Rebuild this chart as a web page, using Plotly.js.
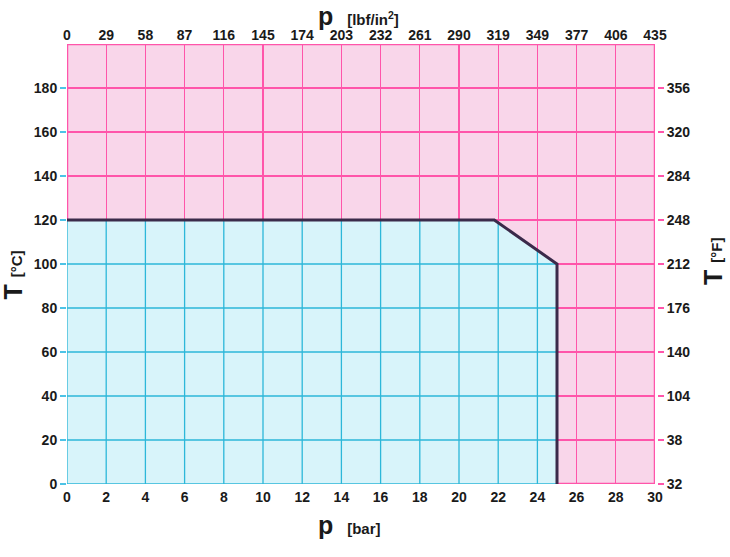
<!DOCTYPE html>
<html>
<head>
<meta charset="utf-8">
<script src="https://cdn.plot.ly/plotly-3.0.1.min.js"></script>
<style>html,body{margin:0;padding:0;background:#fff;}#chart{width:730px;height:557px;}</style>
</head>
<body>
<div id="chart"></div>
<script>
// ---- data ----
var pBarTicks = [0,2,4,6,8,10,12,14,16,18,20,22,24,26,28,30];
var pPsiLabels = ["0","29","58","87","116","145","174","203","232","261","290","319","349","377","406","435"];
var tCTicks = [0,20,40,60,80,100,120,140,160,180];
var tCLabels = ["0","20","40","60","80","100","120","140","160","180"];
var tFLabels = ["32","38","104","140","176","212","248","284","320","356"];
var boundaryP = [0, 21.8, 25, 25];
var boundaryT = [120, 120, 100, 0];
var pRange = [0, 30];
var tRange = [0, 200];

// ---- helpers derived from boundary ----
function tAt(P){
  for (var i=1;i<boundaryP.length;i++){
    var a=boundaryP[i-1], b=boundaryP[i];
    if (a!==b && P>=a && P<=b){
      return boundaryT[i-1] + (P-a)*(boundaryT[i]-boundaryT[i-1])/(b-a);
    }
  }
  return null;
}
function pAt(T){
  for (var i=boundaryP.length-1;i>=1;i--){
    var lo=Math.min(boundaryT[i],boundaryT[i-1]), hi=Math.max(boundaryT[i],boundaryT[i-1]);
    if (T>=lo && T<=hi){
      if (boundaryT[i]===boundaryT[i-1]) return boundaryP[i];
      return boundaryP[i-1] + (T-boundaryT[i-1])*(boundaryP[i]-boundaryP[i-1])/(boundaryT[i]-boundaryT[i-1]);
    }
  }
  return null;
}

var PINK_BG = "#f9d6ea", BLUE_BG = "#d8f4fa";
var PINK_GRID = "#ff55aa", CYAN_GRID = "#2cb7d9";

// blue region polygon
var polyX = [boundaryP[0]].concat(boundaryP);
var polyY = [0].concat(boundaryT);

// cyan grid inside region
var gx = [], gy = [];
var pMaxAll = boundaryP[boundaryP.length-1];
pBarTicks.forEach(function(p){
  if (p < pMaxAll){ var t=tAt(p); if (t!==null){ gx.push(p,p,null); gy.push(0,t,null);} }
});
tCTicks.forEach(function(t){
  if (t < boundaryT[0]){ var p=pAt(t); if (p!==null){ gx.push(0,p,null); gy.push(t,t,null);} }
});

var traces = [
  {x: polyX, y: polyY, type:'scatter', mode:'lines', fill:'toself', fillcolor:BLUE_BG,
   line:{width:0, color:BLUE_BG}, hoverinfo:'skip', showlegend:false},
  {x: gx, y: gy, type:'scatter', mode:'lines', line:{width:1.3, color:CYAN_GRID},
   hoverinfo:'skip', showlegend:false, connectgaps:false},
  {x: boundaryP, y: boundaryT, type:'scatter', mode:'lines', xaxis:'x2', yaxis:'y2',
   line:{width:3, color:'#3b2a4a'}, hoverinfo:'skip', showlegend:false}
];

var FAM = 'Liberation Sans, Arial, sans-serif';
var tickFont = {family:FAM, size:14, color:'#1a1a1a', weight:'bold'};

var layout = {
  width:730, height:557,
  margin:{l:67, r:75, t:44, b:73},
  paper_bgcolor:'#ffffff', plot_bgcolor:PINK_BG,
  showlegend:false,
  xaxis:{range:pRange, tickvals:pBarTicks, ticktext:pBarTicks.map(String), ticks:'',
         showgrid:true, gridcolor:PINK_GRID, gridwidth:1.3, zeroline:false, showline:false,
         tickfont:tickFont, ticklabelstandoff:3, fixedrange:true},
  xaxis2:{range:pRange, overlaying:'x', side:'top', anchor:'y', tickvals:pBarTicks, ticktext:pPsiLabels,
          ticks:'', showgrid:false, zeroline:false, showline:false, tickfont:tickFont, fixedrange:true},
  yaxis:{range:tRange, tickvals:tCTicks, ticktext:tCLabels, ticks:'outside', ticklen:6,
         tickcolor:'#4cc3e6', tickwidth:1.3, showgrid:true, gridcolor:PINK_GRID, gridwidth:1.3, zeroline:false,
         showline:false, tickfont:tickFont, fixedrange:true},
  yaxis2:{range:tRange, overlaying:'y', side:'right', anchor:'free', position:1, shift:2,
          tickvals:tCTicks, ticktext:tFLabels, ticks:'outside', ticklen:6, tickcolor:PINK_GRID, tickwidth:1.3,
          showgrid:false, zeroline:false, showline:false, tickfont:tickFont, fixedrange:true},
  shapes:[
    {type:'rect', xref:'x', yref:'y', x0:pRange[0], x1:pRange[1], y0:tRange[0], y1:tRange[1],
     line:{color:PINK_GRID, width:2.5}, fillcolor:'rgba(0,0,0,0)', layer:'between'}
  ],
  annotations:[
    {xref:'paper', yref:'paper', x:-0.091, y:0.475, xanchor:'center', yanchor:'middle', textangle:-90, showarrow:false,
     text:"<b>T</b> <b><span style='font-size:15px'>[°C]</span></b>",
     font:{family:FAM, size:25, color:'#1a1a1a'}},
    {xref:'paper', yref:'paper', x:1.099, y:0.505, xanchor:'center', yanchor:'middle', textangle:-90, showarrow:false,
     text:"<b>T</b> <b><span style='font-size:15px'>[°F]</span></b>",
     font:{family:FAM, size:25, color:'#1a1a1a'}},
    {xref:'paper', yref:'paper', x:0.481, y:-0.093, xanchor:'center', yanchor:'middle', showarrow:false,
     text:"<b>p</b>  <b><span style='font-size:15px'>[bar]</span></b>",
     font:{family:FAM, size:25, color:'#1a1a1a'}},
    {xref:'paper', yref:'paper', x:0.495, y:1.063, xanchor:'center', yanchor:'middle', showarrow:false,
     text:"<b>p</b>  <b><span style='font-size:15px'>[lbf/in<sup>2</sup>]</span></b>",
     font:{family:FAM, size:25, color:'#1a1a1a'}}
  ]
};

Plotly.newPlot('chart', traces, layout, {displayModeBar:false, staticPlot:true});
</script>
</body>
</html>
